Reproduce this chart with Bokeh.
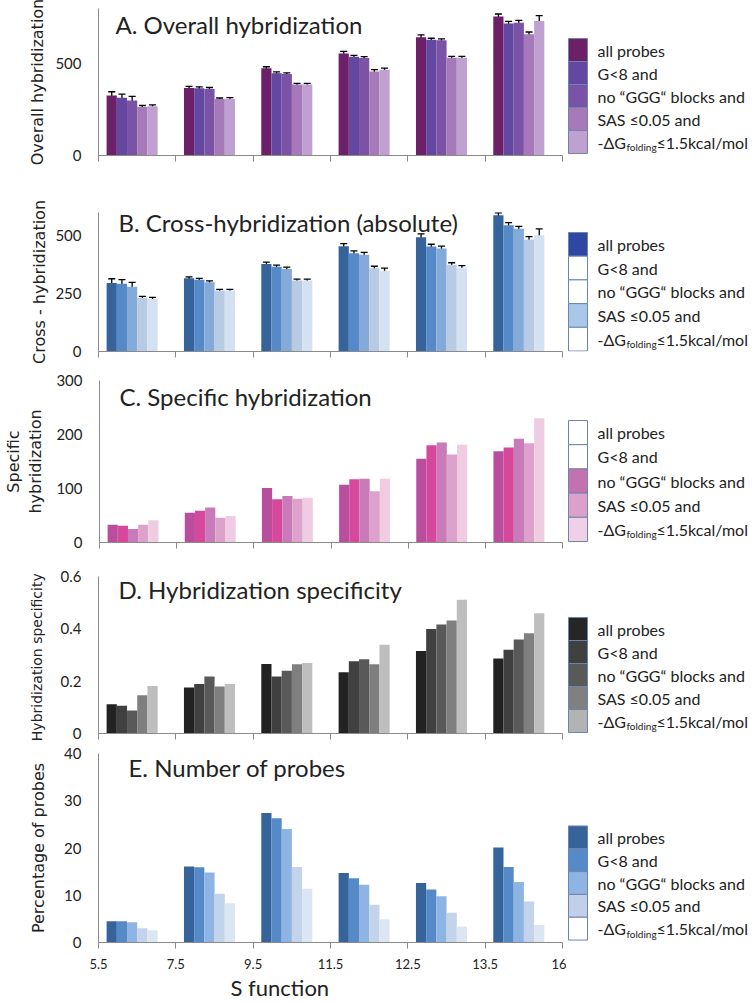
from bokeh.plotting import figure
from bokeh.layouts import column, row
from bokeh.models import (Range1d, FixedTicker, Whisker, TeeHead, ColumnDataSource,
                          Label, Title, NumeralTickFormatter)
from bokeh.core.properties import value
from bokeh.embed import file_html
from bokeh.resources import INLINE

# ---------------- data ----------------
s_bins = ["5.5", "7.5", "9.5", "11.5", "12.5", "13.5", "16"]
series_labels = ["all probes", "G<8 and", "no \u201cGGG\u201c blocks and", "SAS \u22640.05 and"]
last_label_parts = ["-\u0394G", "folding", "\u22641.5kcal/mol"]

# A. Overall hybridization (mean, error)
overall_all = [327, 368, 475, 555, 643, 756]
overall_g8 = [314, 366, 448, 537, 630, 718]
overall_ggg = [300, 362, 443, 530, 627, 723]
overall_sas = [264, 307, 386, 457, 532, 660]
overall_dg = [268, 309, 386, 466, 532, 732]
overall_err_all = [20, 8, 8, 12, 14, 14]
overall_err_g8 = [20, 8, 7, 8, 8, 12]
overall_err_ggg = [22, 8, 7, 8, 8, 12]
overall_err_sas = [8, 6, 7, 10, 8, 12]
overall_err_dg = [8, 6, 7, 10, 8, 29]

# B. Cross-hybridization (absolute)
cross_all = [296, 316, 378, 454, 493, 588]
cross_g8 = [292, 310, 366, 424, 453, 545]
cross_ggg = [280, 299, 356, 418, 445, 530]
cross_sas = [231, 263, 306, 359, 375, 483]
cross_dg = [227, 263, 306, 349, 361, 502]
cross_err_all = [18, 6, 8, 12, 15, 11]
cross_err_g8 = [18, 6, 7, 10, 10, 11]
cross_err_ggg = [18, 6, 8, 10, 10, 10]
cross_err_sas = [7, 5, 6, 9, 8, 13]
cross_err_dg = [7, 5, 6, 11, 10, 27]

# C. Specific hybridization
spec_all = [33, 55, 101, 107, 155, 169]
spec_g8 = [31, 59, 80, 117, 180, 176]
spec_ggg = [25, 65, 86, 118, 185, 192]
spec_sas = [33, 46, 81, 95, 163, 184]
spec_dg = [41, 49, 83, 118, 181, 230]

# D. Hybridization specificity
ratio_all = [0.112, 0.176, 0.266, 0.234, 0.315, 0.287]
ratio_g8 = [0.106, 0.189, 0.218, 0.276, 0.399, 0.320]
ratio_ggg = [0.088, 0.218, 0.240, 0.284, 0.417, 0.359]
ratio_sas = [0.146, 0.180, 0.265, 0.265, 0.432, 0.383]
ratio_dg = [0.182, 0.189, 0.269, 0.339, 0.511, 0.460]

# E. Number of probes (%)
count_all = [4.5, 16.1, 27.4, 14.7, 12.6, 20.1]
count_g8 = [4.5, 15.9, 26.3, 13.6, 11.2, 16.0]
count_ggg = [4.3, 14.8, 24.0, 12.2, 9.8, 12.8]
count_sas = [3.0, 10.3, 16.0, 8.0, 6.3, 8.7]
count_dg = [2.6, 8.3, 11.4, 4.9, 3.4, 3.7]

# ---------------- style ----------------
FONT = "Lato"
AXIS_FONT = "DejaVu Sans"
TXT = "#222222"
AXIS_COL = "#8a8a8a"
N_CAT = 6
SLOT = 0.132
LEFT_GAP = 0.105
MAIN_W = 566
LEG_W = 187
FRAME_LEFT = 98
FRAME_RIGHT = 4
FRAME_W = MAIN_W - FRAME_LEFT - FRAME_RIGHT
PX_PER_CAT = FRAME_W / N_CAT


def bar_x(j):
    return [i + LEFT_GAP + SLOT * (j + 0.5) for i in range(N_CAT)]


def main_panel(height, top, bottom, ymax, yticks, ylabel, values, colors, errors,
               title, title_dx, title_dy, label_standoff, show_x=False, fmt=None,
               ylabel_size="16px"):
    p = figure(width=MAIN_W, height=height, x_range=Range1d(0, N_CAT),
               y_range=Range1d(0, ymax), output_backend="svg", toolbar_location=None,
               min_border_left=FRAME_LEFT, min_border_right=FRAME_RIGHT,
               min_border_top=top, min_border_bottom=bottom)
    p.grid.visible = False
    p.outline_line_color = None
    frame_h = height - top - bottom
    pxu = frame_h / ymax
    for j, vals in enumerate(values):
        xs = bar_x(j)
        src = ColumnDataSource(dict(x=xs, top=vals))
        p.vbar(x="x", top="top", width=SLOT, bottom=0, source=src,
               fill_color=colors[j], line_color=None)
        if errors is not None:
            err = errors[j]
            esrc = ColumnDataSource(dict(x=xs, upper=[v + e for v, e in zip(vals, err)],
                                         lower=[v - e for v, e in zip(vals, err)]))
            w = Whisker(source=esrc, base="x", upper="upper", lower="lower",
                        line_color="black", line_width=1.3,
                        upper_head=TeeHead(size=7, line_color="black", line_width=1.3),
                        lower_head=TeeHead(size=7, line_color="black", line_width=1.3))
            p.add_layout(w)
    # x axis: tick marks at the bin boundaries
    p.xaxis.axis_line_color = AXIS_COL
    if show_x:
        p.xaxis.ticker = FixedTicker(ticks=list(range(N_CAT + 1)))
        p.xaxis.major_tick_line_color = AXIS_COL
        p.xaxis.major_tick_out = 6
        p.xaxis.major_tick_in = 0
        p.xaxis.minor_tick_line_color = None
        p.xaxis.major_label_overrides = {i: s_bins[i] for i in range(N_CAT + 1)}
        p.xaxis.major_label_text_font = FONT
        p.xaxis.major_label_text_font_size = "13px"
        p.xaxis.major_label_text_color = TXT
        p.xaxis.major_label_standoff = 10
    else:
        p.xaxis.ticker = FixedTicker(ticks=[], minor_ticks=list(range(N_CAT + 1)))
        p.xaxis.major_tick_line_color = None
        p.xaxis.minor_tick_line_color = AXIS_COL
        p.xaxis.minor_tick_out = 6
        p.xaxis.minor_tick_in = 0
    p.yaxis.ticker = FixedTicker(ticks=yticks)
    if fmt is not None:
        p.yaxis.formatter = fmt
    p.yaxis.axis_line_color = AXIS_COL
    p.yaxis.major_tick_line_color = None
    p.yaxis.major_tick_out = 0
    p.yaxis.major_tick_in = 0
    p.yaxis.minor_tick_line_color = None
    p.yaxis.major_label_text_font = FONT
    p.yaxis.major_label_text_font_size = "15px"
    p.yaxis.major_label_text_color = TXT
    p.yaxis.major_label_standoff = 17
    p.yaxis.axis_label = ylabel
    p.yaxis.axis_label_text_font = AXIS_FONT
    p.yaxis.axis_label_text_font_size = ylabel_size
    p.yaxis.axis_label_text_font_style = "normal"
    p.yaxis.axis_label_text_color = TXT
    p.yaxis.axis_label_standoff = label_standoff
    # in-plot title
    p.add_layout(Label(x=title_dx / PX_PER_CAT, y=ymax - title_dy / pxu, text=title,
                       text_font=FONT, text_font_size="24px", text_color=TXT,
                       text_baseline="top", text_align="left"))
    return p


def legend_panel(height, top, bottom, top_px, entry_h, colors):
    # in a row, this figure's frame is aligned with the main plot's frame,
    # so the y range is expressed in pixels from the figure's top edge
    lp = figure(width=LEG_W, height=height, x_range=Range1d(0, LEG_W),
                y_range=Range1d(height - bottom, top), output_backend="svg",
                toolbar_location=None, title=None, x_axis_type=None, y_axis_type=None,
                min_border_left=0, min_border_right=0, min_border_top=top,
                min_border_bottom=bottom)
    lp.grid.visible = False
    lp.outline_line_color = None
    ys = [top_px + entry_h * (k + 0.5) for k in range(5)]
    lp.rect(x=[11.5] * 5, y=ys, width=19, height=entry_h, fill_color=colors,
            line_color="#6f84ad", line_width=1)
    lp.text(x=[31] * 4, y=ys[:4], text=series_labels, text_font=value(FONT),
            text_font_size="16px", text_baseline="middle", text_color=TXT)
    lp.text(x=[31], y=[ys[4]], text=[last_label_parts[0]], text_font=value(FONT),
            text_font_size="16px", text_baseline="middle", text_color=TXT)
    lp.text(x=[60], y=[ys[4] + 5], text=[last_label_parts[1]], text_font=value(FONT),
            text_font_size="10px", text_baseline="middle", text_color=TXT)
    lp.text(x=[90], y=[ys[4]], text=[last_label_parts[2]], text_font=value(FONT),
            text_font_size="16px", text_baseline="middle", text_color=TXT)
    return lp


# colours
col_A = ["#6B2068", "#6347A0", "#7A52A6", "#A67AB8", "#BFA0D0"]
col_B = ["#35639A", "#5689C8", "#84AADA", "#B8CBE3", "#D4E1F1"]
col_C = ["#B94E9E", "#D6489B", "#C97AB8", "#DDA2CB", "#F0CCE2"]
col_D = ["#222222", "#404040", "#595959", "#7F7F7F", "#BEBEBE"]
col_E = ["#35639A", "#5689C8", "#8EB4E3", "#C3D3EA", "#DCE6F2"]
leg_A = col_A
leg_B = ["#2E47A3", "white", "white", "#A8C8EA", "white"]
leg_C = ["white", "white", "#C471B0", "#DCA0CB", "#F0D0E6"]
leg_D = ["#262626", "#404040", "#595959", "#808080", "#B3B3B3"]
leg_E = ["#35639A", "#5689C8", "#8EB4E3", "#C0D0E8", "white"]

# panel A
pA = main_panel(183, 8, 28, 800, [0, 500], "Overall hybridization",
                [overall_all, overall_g8, overall_ggg, overall_sas, overall_dg], col_A,
                [overall_err_all, overall_err_g8, overall_err_ggg, overall_err_sas, overall_err_dg],
                "A. Overall hybridization", 17, 1, 5)
lA = legend_panel(183, 8, 28, 38, 23, leg_A)

# panel B
pB = main_panel(182, 29, 14, 600, [0, 250, 500], "Cross - hybridization",
                [cross_all, cross_g8, cross_ggg, cross_sas, cross_dg], col_B,
                [cross_err_all, cross_err_g8, cross_err_ggg, cross_err_sas, cross_err_dg],
                "B. Cross-hybridization (absolute)", 20, -5, 3)
lB = legend_panel(182, 29, 14, 49, 23.7, leg_B)

# panel C
pC = main_panel(190, 15, 13, 300, [0, 100, 200, 300], "Specific\nhybridization",
                [spec_all, spec_g8, spec_ggg, spec_sas, spec_dg], col_C, None,
                "C. Specific hybridization", 20, 1, 8)
lC = legend_panel(190, 15, 13, 55, 24.2, leg_C)

# panel D
pD = main_panel(190, 21, 12, 0.6, [0, 0.2, 0.4, 0.6], "Hybridization  specificity",
                [ratio_all, ratio_g8, ratio_ggg, ratio_sas, ratio_dg], col_D, None,
                "D. Hybridization specificity", 20, -2, 13,
                fmt=NumeralTickFormatter(format="0.[0]"), ylabel_size="14px")
lD = legend_panel(190, 21, 12, 62, 23, leg_D)

# panel E
pE = main_panel(255, 8, 54, 40, [0, 10, 20, 30, 40], "Percentage of probes",
                [count_all, count_g8, count_ggg, count_sas, count_dg], col_E, None,
                "E. Number of probes", 30, -1, 13, show_x=True)
pE.add_layout(Title(text="S function", align="left", offset=(230 - FRAME_LEFT),
                    text_font=FONT, text_font_size="22px", text_font_style="normal",
                    text_color=TXT, standoff=0), "below")
lE = legend_panel(255, 8, 54, 82, 23.3, leg_E)

layout = column(row(pA, lA), row(pB, lB), row(pC, lC), row(pD, lD), row(pE, lE))
open("out.html", "w").write(file_html(layout, INLINE))
